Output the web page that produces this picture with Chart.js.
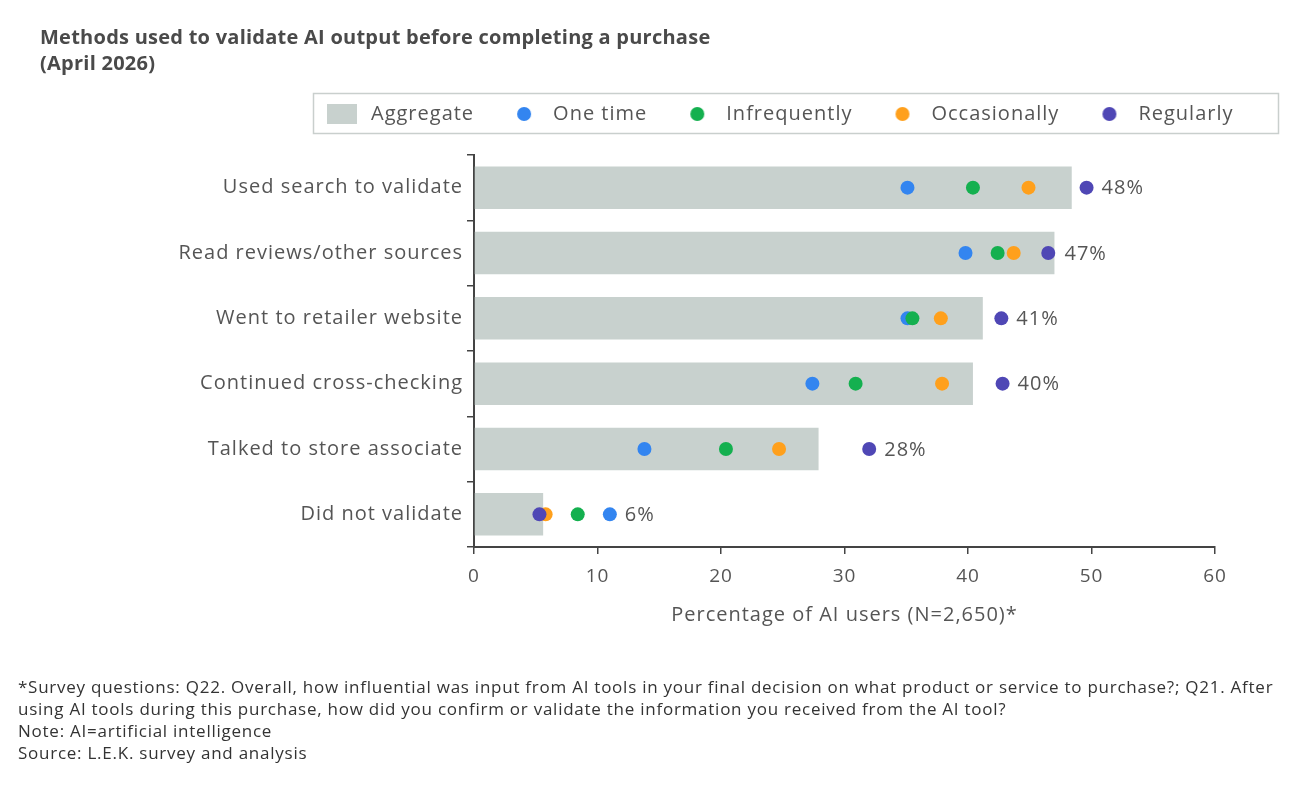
<!DOCTYPE html>
<html>
<head>
<meta charset="utf-8">
<script src="https://cdn.jsdelivr.net/npm/chart.js@4/dist/chart.umd.min.js"></script>
<style>
  html, body { margin: 0; padding: 0; background: #fff; }
  body { width: 1300px; height: 787px; position: relative; overflow: hidden; font-family: "Open Sans", sans-serif; }
  #wrap { position: absolute; left: 0; top: 0; width: 1300px; height: 787px; }
  #title { position: absolute; left: 40px; top: 24px; font-size: 20px; font-weight: 700; line-height: 26px; letter-spacing: 0.25px; color: #4a4a4a; }
  #note { position: absolute; left: 18px; top: 676px; font-size: 17px; line-height: 22px; letter-spacing: 0.75px; color: #333; white-space: nowrap; }
</style>
</head>
<body>
<div id="wrap"><canvas id="chart" width="1300" height="787"></canvas></div>
<div id="title">Methods used to validate AI output before completing a purchase<br>(April 2026)</div>
<div id="note">*Survey questions: Q22. Overall, how influential was input from AI tools in your final decision on what product or service to purchase?; Q21. After<br>using AI tools during this purchase, how did you confirm or validate the information you received from the AI tool?<br>Note: AI=artificial intelligence<br>Source: L.E.K. survey and analysis</div>
<script>
const methods = ['Used search to validate', 'Read reviews/other sources', 'Went to retailer website',
  'Continued cross-checking', 'Talked to store associate', 'Did not validate'];
const aggregate = [48.4, 47.0, 41.2, 40.4, 27.9, 5.6];
const oneTime = [35.1, 39.8, 35.1, 27.4, 13.8, 11.0];
const infrequently = [40.4, 42.4, 35.5, 30.9, 20.4, 8.4];
const occasionally = [44.9, 43.7, 37.8, 37.9, 24.7, 5.8];
const regularly = [49.6, 46.5, 42.7, 42.8, 32.0, 5.3];
const xTicks = [0, 10, 20, 30, 40, 50, 60];

const FONT = '"Open Sans", sans-serif';
const TEXT = '#555';
const AXIS = '#444';
const colors = { bar: '#c8d1ce', one: '#3385f0', inf: '#14b04f', occ: '#ffa01c', reg: '#4f47b5' };

// legend markers: content sits left of the image centre so the gap to the text is wider
function marker(kind, color) {
  const c = document.createElement('canvas');
  c.width = 60; c.height = 20;
  const g = c.getContext('2d');
  g.fillStyle = color;
  if (kind === 'rect') g.fillRect(6, 0, 30, 20);
  else { g.beginPath(); g.arc(21, 10, 7, 0, Math.PI * 2); g.fill(); }
  return c;
}
const markers = [marker('rect', colors.bar), marker('dot', colors.one), marker('dot', colors.inf),
  marker('dot', colors.occ), marker('dot', colors.reg)];

function dots(label, data, color, order) {
  return {
    type: 'line', label, data, indexAxis: 'y', order,
    showLine: false, pointRadius: 7, pointHoverRadius: 7, pointBorderWidth: 0,
    backgroundColor: color, borderColor: color, pointBackgroundColor: color
  };
}

const tweaks = {
  id: 'tweaks',
  beforeUpdate(chart) { chart.ctx.letterSpacing = '1px'; },
  beforeDraw(chart) { chart.ctx.letterSpacing = '1px'; },
  afterLayout(chart) {
    const lg = chart.legend;
    lg.left = 292; lg.right = 1500; lg.top = 55;
  },
  afterDatasetsDraw(chart) {
    const { ctx, scales: { x, y } } = chart;
    ctx.save();
    ctx.font = '20px ' + FONT;
    ctx.fillStyle = TEXT;
    ctx.textBaseline = 'middle';
    methods.forEach((m, i) => {
      const barEnd = x.getPixelForValue(aggregate[i]);
      const dotMax = x.getPixelForValue(Math.max(oneTime[i], infrequently[i], occasionally[i], regularly[i]));
      const px = Math.max(barEnd + 10, dotMax + 15);
      ctx.fillText(Math.round(aggregate[i]) + '%', px, y.getPixelForValue(i) + 1);
    });
    ctx.restore();
  },
  afterDraw(chart) {
    const { ctx } = chart;
    ctx.save();
    ctx.strokeStyle = '#c9cfcd';
    ctx.lineWidth = 1.5;
    ctx.strokeRect(313.5, 93.5, 965, 40);
    ctx.restore();
  }
};

new Chart(document.getElementById('chart'), {
  type: 'bar',
  data: {
    labels: methods,
    datasets: [
      { label: 'Aggregate', data: aggregate, backgroundColor: colors.bar, order: 5,
        barPercentage: 0.65, categoryPercentage: 1 },
      dots('One time', oneTime, colors.one, 4),
      dots('Infrequently', infrequently, colors.inf, 3),
      dots('Occasionally', occasionally, colors.occ, 2),
      dots('Regularly', regularly, colors.reg, 1)
    ]
  },
  options: {
    indexAxis: 'y',
    responsive: false,
    animation: false,
    events: [],
    layout: { padding: { top: 76, right: 85, bottom: 150, left: 0 } },
    plugins: {
      tooltip: { enabled: false },
      legend: {
        display: true,
        position: 'top',
        align: 'start',
        labels: {
          usePointStyle: true,
          boxWidth: 20,
          boxHeight: 20,
          padding: 49,
          color: TEXT,
          font: { family: FONT, size: 20 },
          generateLabels(chart) {
            const items = Chart.defaults.plugins.legend.labels.generateLabels(chart);
            items.sort((a, b) => a.datasetIndex - b.datasetIndex);
            items.forEach(it => { it.pointStyle = markers[it.datasetIndex]; });
            return items;
          }
        }
      }
    },
    scales: {
      x: {
        type: 'linear',
        min: 0, max: 60,
        afterBuildTicks(s) { s.ticks = xTicks.map(v => ({ value: v })); },
        afterFit(s) { s.height = 90; },
        border: { display: true, color: AXIS, width: 2 },
        grid: { drawOnChartArea: false, drawTicks: true, tickLength: 7, color: AXIS, lineWidth: 1.5 },
        ticks: { color: TEXT, padding: 11, font: { family: FONT, size: 19 } },
        title: { display: true, text: 'Percentage of AI users (N=2,650)*', color: TEXT,
          font: { family: FONT, size: 20 }, padding: { top: 4, bottom: 10 } }
      },
      y: {
        type: 'category',
        afterFit(s) { s.width = 474; },
        border: { display: true, color: AXIS, width: 2 },
        grid: { drawOnChartArea: false, drawTicks: true, tickLength: 7, color: AXIS, lineWidth: 1.5, offset: true },
        ticks: { color: TEXT, padding: 4, font: { family: FONT, size: 20 } }
      }
    }
  },
  plugins: [tweaks]
});
</script>
</body>
</html>
